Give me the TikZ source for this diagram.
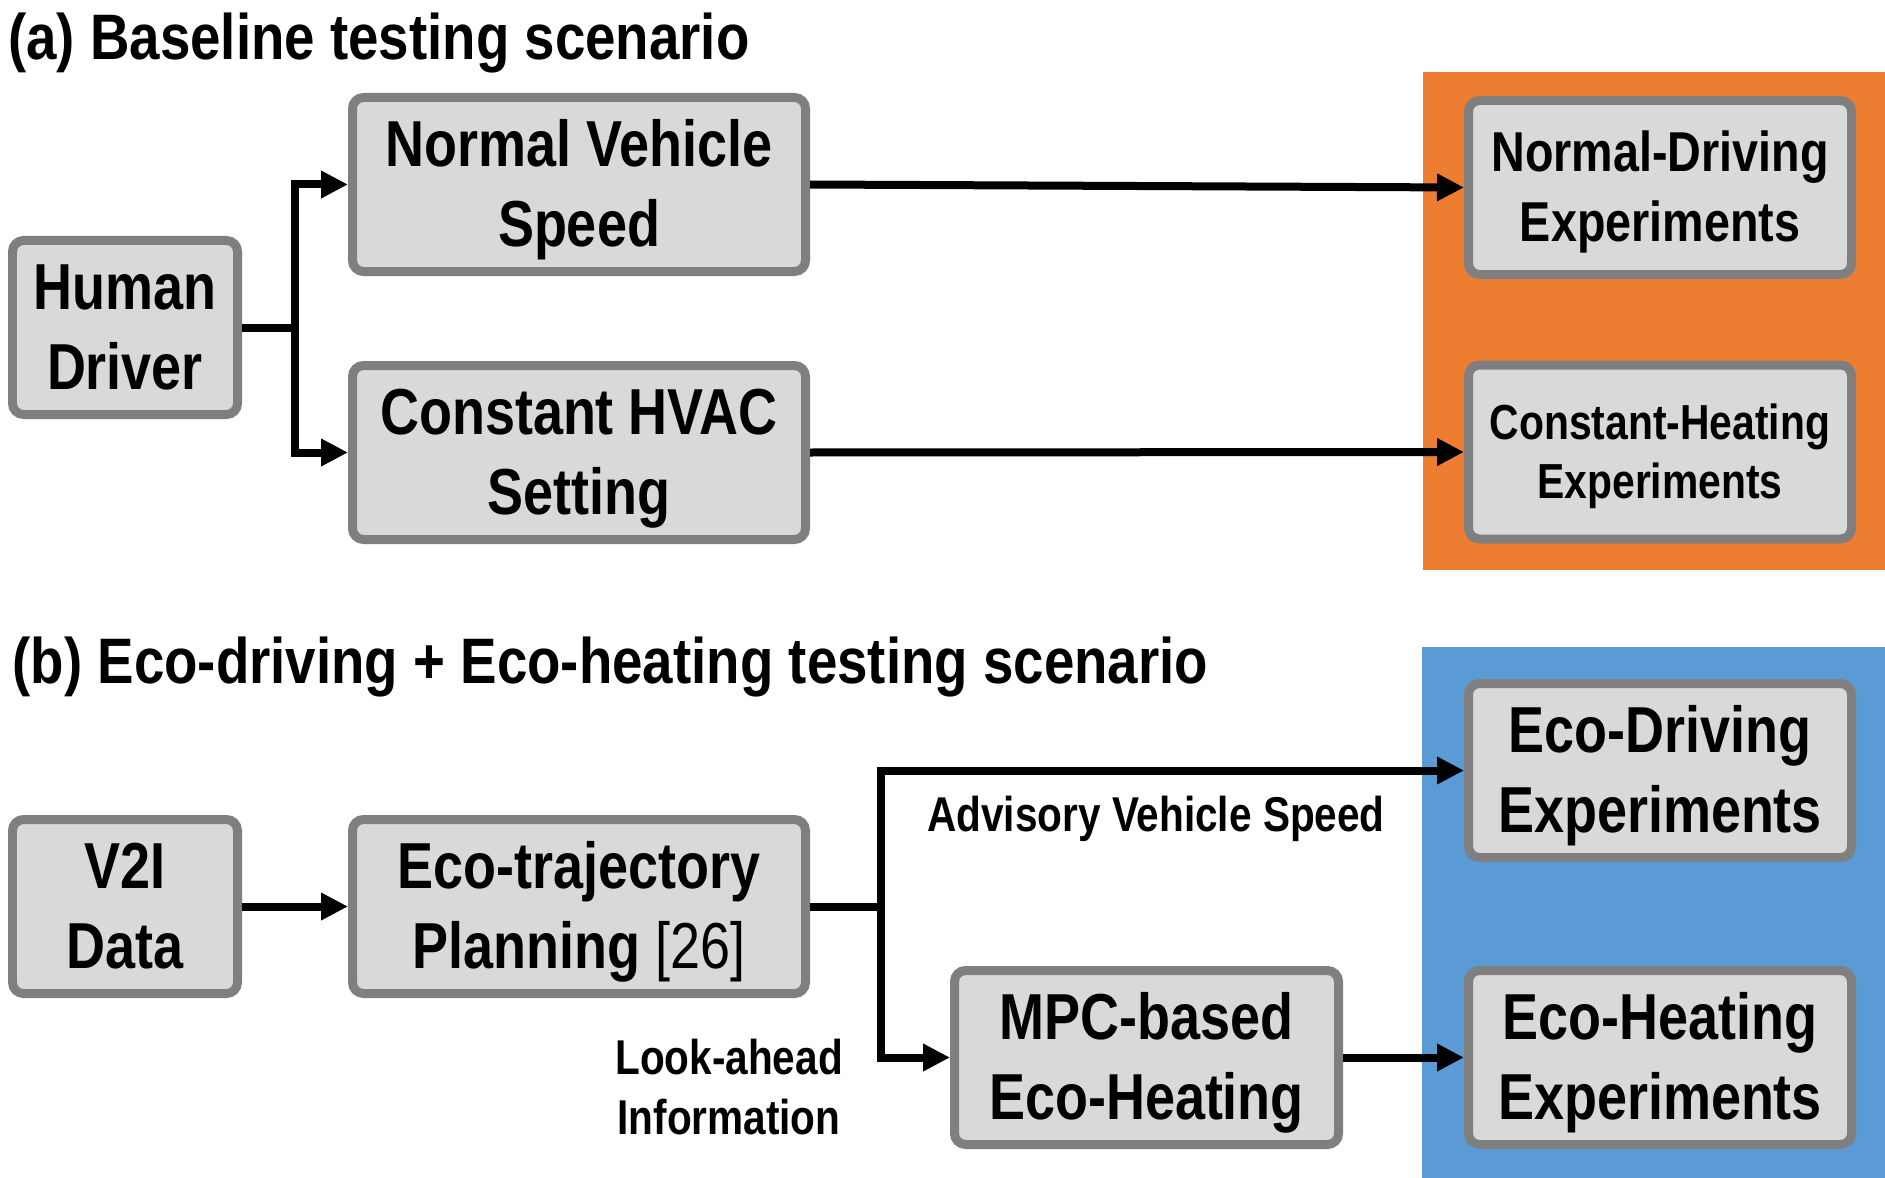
\documentclass[tikz,border=0pt]{standalone}
\usepackage{fontspec}
\setmainfont{Liberation Sans}
\newfontfamily\nar{Liberation Sans}[FakeStretch=0.83]
\newfontfamily\narT{Liberation Sans}[FakeStretch=0.85]
\usetikzlibrary{arrows.meta}
\definecolor{bord}{HTML}{7F7F7F}
\definecolor{boxfill}{HTML}{D9D9D9}
\definecolor{orangebg}{HTML}{ED7D31}
\definecolor{bluebg}{HTML}{5B9BD5}
% two centred lines; box height = cap height + one baselineskip, depth 0
\newcommand\twol[2]{\raisebox{0pt}[\dimexpr\fontcharht\font`\H+\baselineskip\relax][0pt]{\vbox{\lineskiplimit=-\maxdimen\relax\halign{\hfil##\hfil\cr#1\cr#2\cr}}}}
\tikzset{
  blk/.style={draw=bord, fill=boxfill, line width=0.09cm, rounded corners=0.11cm,
    inner sep=0pt, minimum height=1.74cm,
    font=\nar\bfseries\fontsize{18.5}{22.8}\selectfont},
  wide/.style={blk, minimum width=4.53cm},
  narrow/.style={blk, minimum width=2.25cm},
  res/.style={blk, minimum width=3.83cm},
  ttl/.style={inner sep=0pt, anchor=base west, font=\narT\bfseries\fontsize{18.3}{21}\selectfont},
  lbl/.style={inner sep=0pt, font=\nar\bfseries\fontsize{13.9}{16.9}\selectfont},
  ln/.style={line width=0.08cm, line join=miter},
  arr/.style={ln, -{Triangle[length=0.27cm,width=0.26cm]}}
}
\begin{document}
\begin{tikzpicture}
\useasboundingbox (0,0) rectangle (18.85,-11.78);
\fill[white] (0,0) rectangle (18.85,-11.78);
% coloured backgrounds
\fill[orangebg] (14.23,-0.72) rectangle (18.85,-5.70);
\fill[bluebg] (14.22,-6.47) rectangle (18.85,-11.78);
% titles
\node[ttl] (ta) at (0.075,-0.60) {(a) Baseline testing scenario};
\node[ttl] (tb) at (0.12,-6.83) {(b) Eco-driving + Eco-heating testing scenario};
% (a) boxes
\node[narrow] (hd) at (1.25,-3.275) {\twol{Human}{Driver}};
\node[wide] (nvs) at (5.79,-1.845) {\twol{Normal Vehicle}{Speed}};
\node[wide] (chs) at (5.79,-4.525) {\twol{Constant HVAC}{Setting}};
\node[res, font=\nar\bfseries\fontsize{16}{19.9}\selectfont] (nde) at (16.60,-1.875) {\twol{Normal-Driving}{Experiments}};
\node[res, font=\nar\bfseries\fontsize{14}{16.9}\selectfont] (che) at (16.60,-4.52) {\twol{Constant-Heating}{Experiments}};
% (b) boxes
\node[narrow] (v2i) at (1.25,-9.065) {\twol{V2I}{Data}};
\node[wide] (etp) at (5.79,-9.065) {\twol{Eco-trajectory}{Planning {\mdseries[26]}}};
\node[res] (edx) at (16.60,-7.705) {\twol{Eco-Driving}{Experiments}};
\node[blk, minimum width=3.84cm] (mpc) at (11.465,-10.575) {\twol{MPC-based}{Eco-Heating}};
\node[res] (ehx) at (16.60,-10.575) {\twol{Eco-Heating}{Experiments}};
% labels
\node[lbl, anchor=base] (adv) at (11.56,-8.315) {Advisory Vehicle Speed};
\node[lbl, anchor=south] (look) at (7.29,-11.35) {\twol{Look-ahead}{Information}};
% connectors (a)
\coordinate (sa) at (2.95,-3.275);
\draw[ln] (hd.east) -- (sa);
\draw[arr] (sa) |- (nvs.west);
\draw[arr] (sa) |- (chs.west);
\draw[arr] (nvs.east) -- (nde.west);
\draw[arr] (chs.east) -- (che.west);
% connectors (b)
\draw[arr] (v2i.east) -- (etp.west);
\coordinate (sb) at (8.81,-9.065);
\draw[ln] (etp.east) -- (sb);
\draw[arr] (sb) |- (edx.west);
\draw[arr] (sb) |- (mpc.west);
\draw[arr] (mpc.east) -- (ehx.west);
\end{tikzpicture}
\end{document}
